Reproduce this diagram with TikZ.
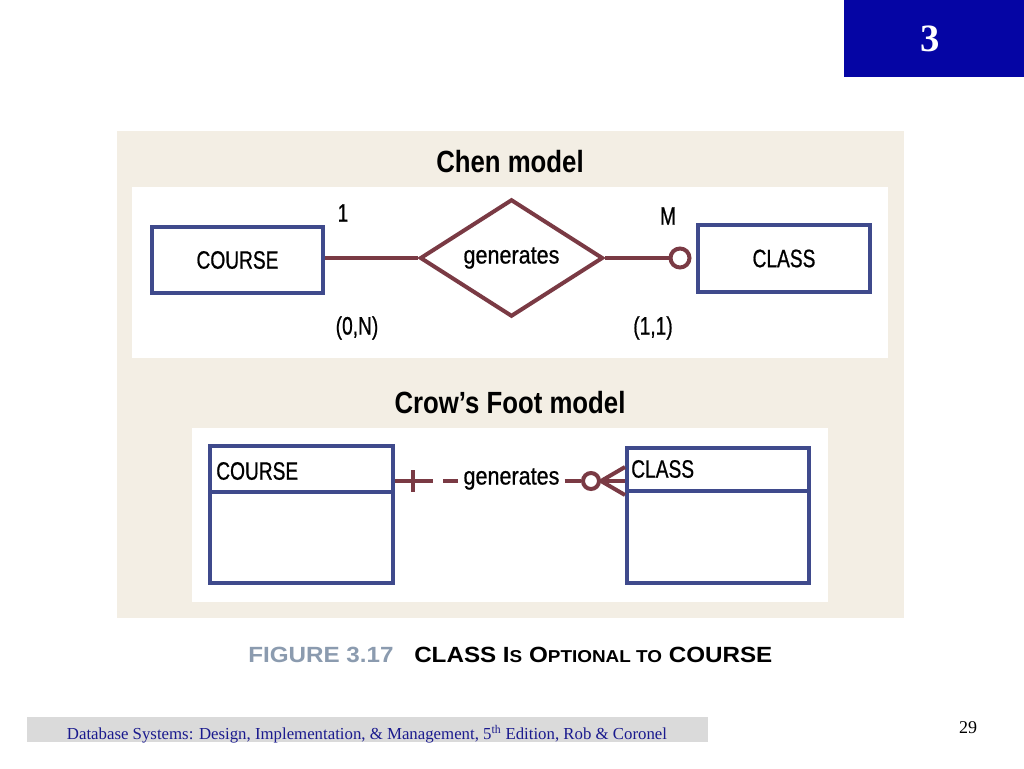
\documentclass[tikz,border=0pt]{standalone}
\usepackage{fontspec}
\setmainfont{Liberation Sans}
\newfontfamily\capsf[FakeStretch=0.76,FakeBold=0.7]{Liberation Sans}
\newfontfamily\lowf[FakeStretch=0.86,FakeBold=0.7]{Liberation Sans}
\newfontfamily\titlef[FakeStretch=0.84]{Liberation Sans}
\newfontfamily\capf[FakeStretch=1.1]{Liberation Sans}
\newfontfamily\serf{Liberation Serif}
\usetikzlibrary{shapes.geometric}
\newlength\upx
\setlength\upx{0.75pt}
\definecolor{beige}{HTML}{F3EEE4}
\definecolor{entblue}{HTML}{3F4A8C}
\definecolor{relred}{HTML}{7A3A44}
\definecolor{topblue}{HTML}{0505A4}
\definecolor{capgray}{HTML}{8B9BAF}
\definecolor{footgray}{HTML}{DADADA}
\definecolor{foottext}{HTML}{1A1A8E}
\tikzset{
  ent/.style={draw=entblue, line width=4\upx, fill=white, inner sep=0pt,
    font=\capsf\fontsize{18.9pt}{20pt}\selectfont},
  relline/.style={draw=relred, line width=4\upx},
  caps/.style={font=\capsf\fontsize{18.9pt}{20pt}\selectfont, inner sep=0pt},
  lowtxt/.style={font=\lowf\fontsize{18.8pt}{20pt}\selectfont, inner sep=0pt},
  ttl/.style={font=\titlef\bfseries\fontsize{23pt}{24pt}\selectfont, inner sep=0pt, anchor=base},
  optcirc/.style={circle, draw=relred, line width=4\upx, fill=white, inner sep=0pt}
}
\newcommand{\smc}[1]{{\fontsize{12.9pt}{13pt}\selectfont #1}}
\begin{document}
\begin{tikzpicture}[x=0.75pt,y=-0.75pt]
\useasboundingbox (0,0) rectangle (1024,768);
\fill[white] (0,0) rectangle (1024,768);
% top-right blue tab
\fill[topblue] (844,0) rectangle (1024,77);
\node[text=white, font=\serf\bfseries\fontsize{29pt}{30pt}\selectfont, inner sep=0pt] (tab) at (930,39) {3};
% figure panel
\fill[beige] (117,131) rectangle (904,618);
\fill[white] (132,187) rectangle (888,358);
\fill[white] (192,428) rectangle (828,602);
\node[ttl] (chenttl) at (510,172) {Chen model};
\node[ttl] (crowttl) at (510,413) {Crow’s Foot model};
% Chen model
\node[ent, minimum width=171\upx, minimum height=66\upx] (course) at (237.5,260) {COURSE};
\node[ent, minimum width=172\upx, minimum height=67\upx] (class) at (784,258.5) {CLASS};
\node[diamond, draw=relred, line width=4\upx, fill=white, inner sep=0pt,
      minimum width=183\upx, minimum height=68\upx, lowtxt] (rel) at (511.5,258) {generates};
\node[optcirc, minimum size=19\upx] (oc) at (680,258) {};
\draw[relline] (course.east |- rel.west) -- (rel.west);
\draw[relline] (rel.east) -- (oc.west);
\node[caps] (one) at (343,213) {1};
\node[caps] (em) at (668,216) {M};
\node[caps] (zn) at (357,328) {(0,N)};
\node[caps] (oo) at (653,328) {(1,1)};
% Crow's Foot model
\node[ent, minimum width=183\upx, minimum height=137\upx] (c2) at (301.5,514.5) {};
\node[ent, minimum width=182\upx, minimum height=135\upx] (k2) at (718,515.5) {};
\draw[draw=entblue, line width=4\upx] (c2.west |- 0,492) -- (c2.east |- 0,492);
\draw[draw=entblue, line width=4\upx] (k2.west |- 0,491) -- (k2.east |- 0,491);
\node[caps, anchor=west] (c2t) at (216,471) {COURSE};
\node[caps, anchor=west] (k2t) at (631,469) {CLASS};
\coordinate (ly) at (511,481);
\node[lowtxt, inner xsep=5\upx] (gen) at (511.5,479) {generates};
\draw[relline, dash pattern=on 38\upx off 10\upx on 15\upx off 30\upx] (c2.east |- ly) -- (gen.west |- ly);
\draw[relline] ([xshift=18\upx]c2.east |- ly) ++(0,-11) -- ++(0,22);
\node[optcirc, minimum size=16\upx] (oc2) at (591,481) {};
\draw[relline] (gen.east |- ly) -- (oc2.west);
\draw[relline] (oc2.east) -- (k2.west |- ly);
\draw[relline] (oc2.east) -- ([yshift=10.5pt]k2.west |- ly);
\draw[relline] (oc2.east) -- ([yshift=-10.5pt]k2.west |- ly);
% caption
\node[anchor=base west, inner sep=0pt, text=capgray, font=\capf\bfseries\fontsize{16.5pt}{17pt}\selectfont] (fig) at (248,662) {FIGURE 3.17};
\node[anchor=base west, inner sep=0pt, font=\capf\bfseries\fontsize{16.5pt}{17pt}\selectfont] (figt) at (414,662) {CLASS I\smc{S} O\smc{PTIONAL TO} COURSE};
% footer
\fill[footgray] (27,717) rectangle (708,742);
\node[anchor=base, inner sep=0pt, text=foottext, font=\serf\fontsize{12.6pt}{13pt}\selectfont] (foot) at (367,739) {Database Systems: Design, Implementation, \& Management, 5\textsuperscript{th} Edition, Rob \& Coronel};
\node[anchor=base, inner sep=0pt, font=\serf\fontsize{13.5pt}{14pt}\selectfont] (pg) at (968,733) {29};
\end{tikzpicture}
\end{document}
